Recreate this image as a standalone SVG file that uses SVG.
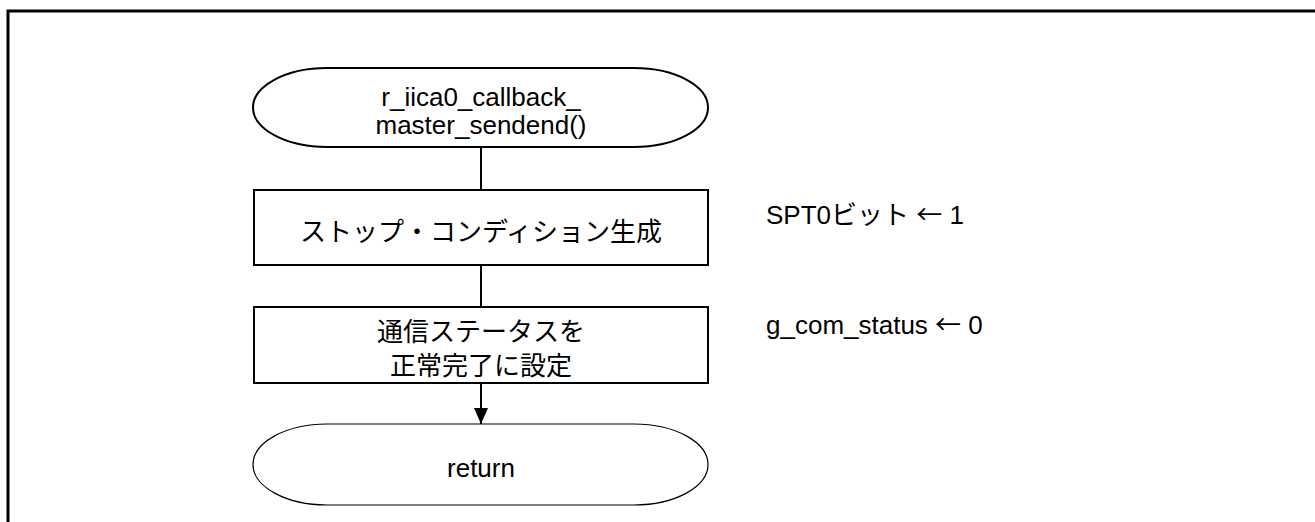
<svg xmlns="http://www.w3.org/2000/svg" width="1315" height="522" viewBox="0 0 1315 522">
  <style>
    .frame { stroke: #000; stroke-width: 3; fill: none; }
    .shape { fill: #fff; stroke: #000; stroke-width: 2; }
    .thin { fill: #fff; stroke: #000; stroke-width: 1.2; }
    .conn { stroke: #000; stroke-width: 2; fill: none; }
    .lat { font-family: "Liberation Sans", Arial, sans-serif; font-size: 26px; fill: #000; }
    .jp { font-family: "Noto Sans CJK JP", sans-serif; font-size: 26px; fill: #000; }
    .mid { text-anchor: middle; }
  </style>
  <defs>
    <marker id="arrow" markerWidth="16" markerHeight="14" refX="16" refY="7" orient="auto" markerUnits="userSpaceOnUse">
      <path d="M0,0 L16,7 L0,14 Z" fill="#000"/>
    </marker>
  </defs>
  <rect width="1315" height="522" fill="#fff"/>
  <path class="frame" d="M8,522 V11 H1315"/>

  <g id="connectors">
    <line class="conn" x1="481" y1="147" x2="481" y2="190"/>
    <line class="conn" x1="481" y1="265" x2="481" y2="307"/>
    <line class="conn" x1="481" y1="383" x2="481" y2="424" marker-end="url(#arrow)"/>
  </g>

  <g id="start">
    <rect class="shape" x="253" y="68" width="455" height="79" rx="74" ry="39.5"/>
    <text class="lat mid" x="481" y="106">r_iica0_callback_</text>
    <text class="lat mid" x="481" y="134">master_sendend()</text>
  </g>

  <g id="stop-condition">
    <rect class="shape" x="254" y="190" width="454" height="75"/>
    <text class="jp mid" x="481" y="241">ストップ・コンディション生成</text>
  </g>

  <g id="set-status">
    <rect class="shape" x="254" y="307" width="454" height="76"/>
    <text class="jp mid" x="481" y="341">通信ステータスを</text>
    <text class="jp mid" x="481" y="375">正常完了に設定</text>
  </g>

  <g id="return">
    <rect class="thin" x="253" y="424" width="455" height="81" rx="74" ry="40.5"/>
    <text class="lat mid" x="481" y="477">return</text>
  </g>

  <g id="note-spt0">
    <text class="lat" x="766" y="224">SPT0<tspan class="jp">ビット</tspan> <tspan class="jp">←</tspan> 1</text>
  </g>

  <g id="note-status">
    <text class="lat" x="766" y="334">g_com_status <tspan class="jp">←</tspan> 0</text>
  </g>
</svg>
